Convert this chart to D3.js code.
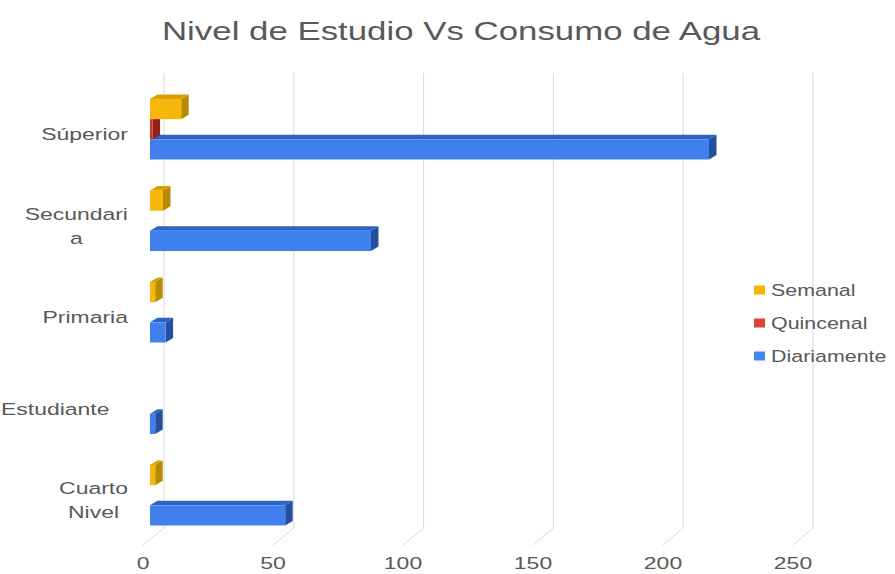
<!DOCTYPE html>
<html>
<head>
<meta charset="utf-8">
<script src="https://cdn.jsdelivr.net/npm/d3@7"></script>
<style>
  html, body { margin: 0; padding: 0; background: #ffffff; }
  svg { display: block; }
  text { font-family: "Liberation Sans", Arial, sans-serif; fill: #595959; }
</style>
</head>
<body>
<svg id="chart" width="895" height="574"></svg>
<script>
// Categories (top to bottom) and their wrapped label lines
const categories = ["Súperior", "Secundaria", "Primaria", "Estudiante", "Cuarto Nivel"];
const categoryLines = [["Súperior"], ["Secundari", "a"], ["Primaria"], ["Estudiante"], ["Cuarto", "Nivel"]];

// Series and their values per category
const seriesNames = ["Semanal", "Quincenal", "Diariamente"];
const semanal     = [12, 5, 2, 0, 2];
const quincenal   = [1, 0, 0, 0, 0];
const diariamente = [215, 85, 6, 2, 52];
const seriesValues = [semanal, quincenal, diariamente];

// Axis ticks
const tickValues = [0, 50, 100, 150, 200, 250];

const title = "Nivel de Estudio Vs Consumo de Agua";

// Face colours: front, top, side
const palette = {
  "Semanal":     { front: "#F6B60A", top: "#D9A000", side: "#B88A00" },
  "Quincenal":   { front: "#C9372C", top: "#A82A22", side: "#8E221B" },
  "Diariamente": { front: "#3F80EC", top: "#2E62C4", side: "#24509F" }
};
const legendColor = { "Semanal": "#F4B400", "Quincenal": "#DB4437", "Diariamente": "#4285F4" };

const svg = d3.select("#chart");
const stretch = 1.35;   // horizontal text widening

// Value scales: back wall (gridlines), bar front face, floor edge (tick labels)
const xBack  = d3.scaleLinear().domain([0, 250]).range([164, 813]);
const xBar   = d3.scaleLinear().domain([0, 250]).range([150, 800]);
const xFloor = d3.scaleLinear().domain([0, 250]).range([143, 793]);

const y = d3.scaleBand().domain(categories).range([83.5, 541])
  .paddingInner(0.339).paddingOuter(0.1695);
const ySub = d3.scaleBand().domain(seriesNames).range([0, y.bandwidth()]);

const depthX = 7.5, depthY = -4.5;
const wallTop = 73, wallBottom = 528, floorFront = 545;

// Back wall gridlines and floor lines
const grid = svg.append("g").attr("stroke", "#D9D9D9").attr("stroke-width", 1).attr("fill", "none");
grid.selectAll("line.v").data(tickValues).join("line").attr("class", "v")
  .attr("x1", d => xBack(d)).attr("x2", d => xBack(d))
  .attr("y1", wallTop).attr("y2", wallBottom);
grid.selectAll("line.f").data(tickValues).join("line").attr("class", "f")
  .attr("x1", d => xBack(d)).attr("y1", wallBottom)
  .attr("x2", d => xFloor(d)).attr("y2", floorFront);

// Tick labels along the floor edge
svg.append("g").selectAll("text").data(tickValues).join("text")
  .attr("transform", d => `translate(${xFloor(d)},569) scale(${stretch},1)`)
  .attr("text-anchor", "middle").attr("font-size", 17)
  .text(d => d);

// 3D bars: draw lower series first so upper bars cover their top faces
const bars = [];
categories.forEach((c, ci) => {
  seriesNames.forEach((s, si) => {
    bars.push({ cat: c, series: s, value: seriesValues[si][ci], order: si });
  });
});
bars.sort((a, b) => b.order - a.order);

const barG = svg.append("g");
bars.filter(d => d.value > 0).forEach(d => {
  const x0 = xBar(0), x1 = xBar(d.value);
  const y0 = y(d.cat) + ySub(d.series), h = ySub.bandwidth();
  const col = palette[d.series];
  const g = barG.append("g");
  // top face
  g.append("path").attr("fill", col.top)
    .attr("d", `M${x0},${y0}L${x1},${y0}L${x1 + depthX},${y0 + depthY}L${x0 + depthX},${y0 + depthY}Z`);
  // side face
  g.append("path").attr("fill", col.side)
    .attr("d", `M${x1},${y0}L${x1 + depthX},${y0 + depthY}L${x1 + depthX},${y0 + h + depthY}L${x1},${y0 + h}Z`);
  // front face
  g.append("rect").attr("fill", col.front)
    .attr("x", x0).attr("y", y0).attr("width", x1 - x0).attr("height", h);
});

// Category labels, wrapped lines centred on each other;
// a label wider than its box overflows to the left edge of the chart
const labelRight = 128, labelBox = 105, lineH = 24;
categories.forEach((c, ci) => {
  const lines = categoryLines[ci];
  const g = svg.append("g");
  const texts = lines.map(t => g.append("text").attr("font-size", 17).attr("text-anchor", "middle").text(t));
  const w = d3.max(texts, t => t.node().getComputedTextLength()) * stretch;
  const cx = w > labelBox ? w / 2 + 1 : labelRight - w / 2;
  const cy = y(c) + y.bandwidth() / 2 + 5;
  const startY = cy - (lines.length - 1) * lineH / 2;
  texts.forEach((t, i) => {
    t.attr("transform", `translate(${cx},${startY + i * lineH + 6}) scale(${stretch},1)`);
  });
});

// Legend
const legend = svg.append("g");
const legendY = d3.scalePoint().domain(seriesNames).range([290, 356]);
seriesNames.forEach(s => {
  legend.append("rect").attr("x", 754).attr("y", legendY(s) - 4.5)
    .attr("width", 11).attr("height", 9).attr("fill", legendColor[s]);
  legend.append("text").attr("font-size", 17)
    .attr("transform", `translate(771,${legendY(s) + 6}) scale(1.26,1)`)
    .text(s);
});

// Title
svg.append("text").attr("font-size", 26).attr("text-anchor", "middle")
  .attr("transform", `translate(461,40) scale(1.34,1)`)
  .text(title);
</script>
</body>
</html>
